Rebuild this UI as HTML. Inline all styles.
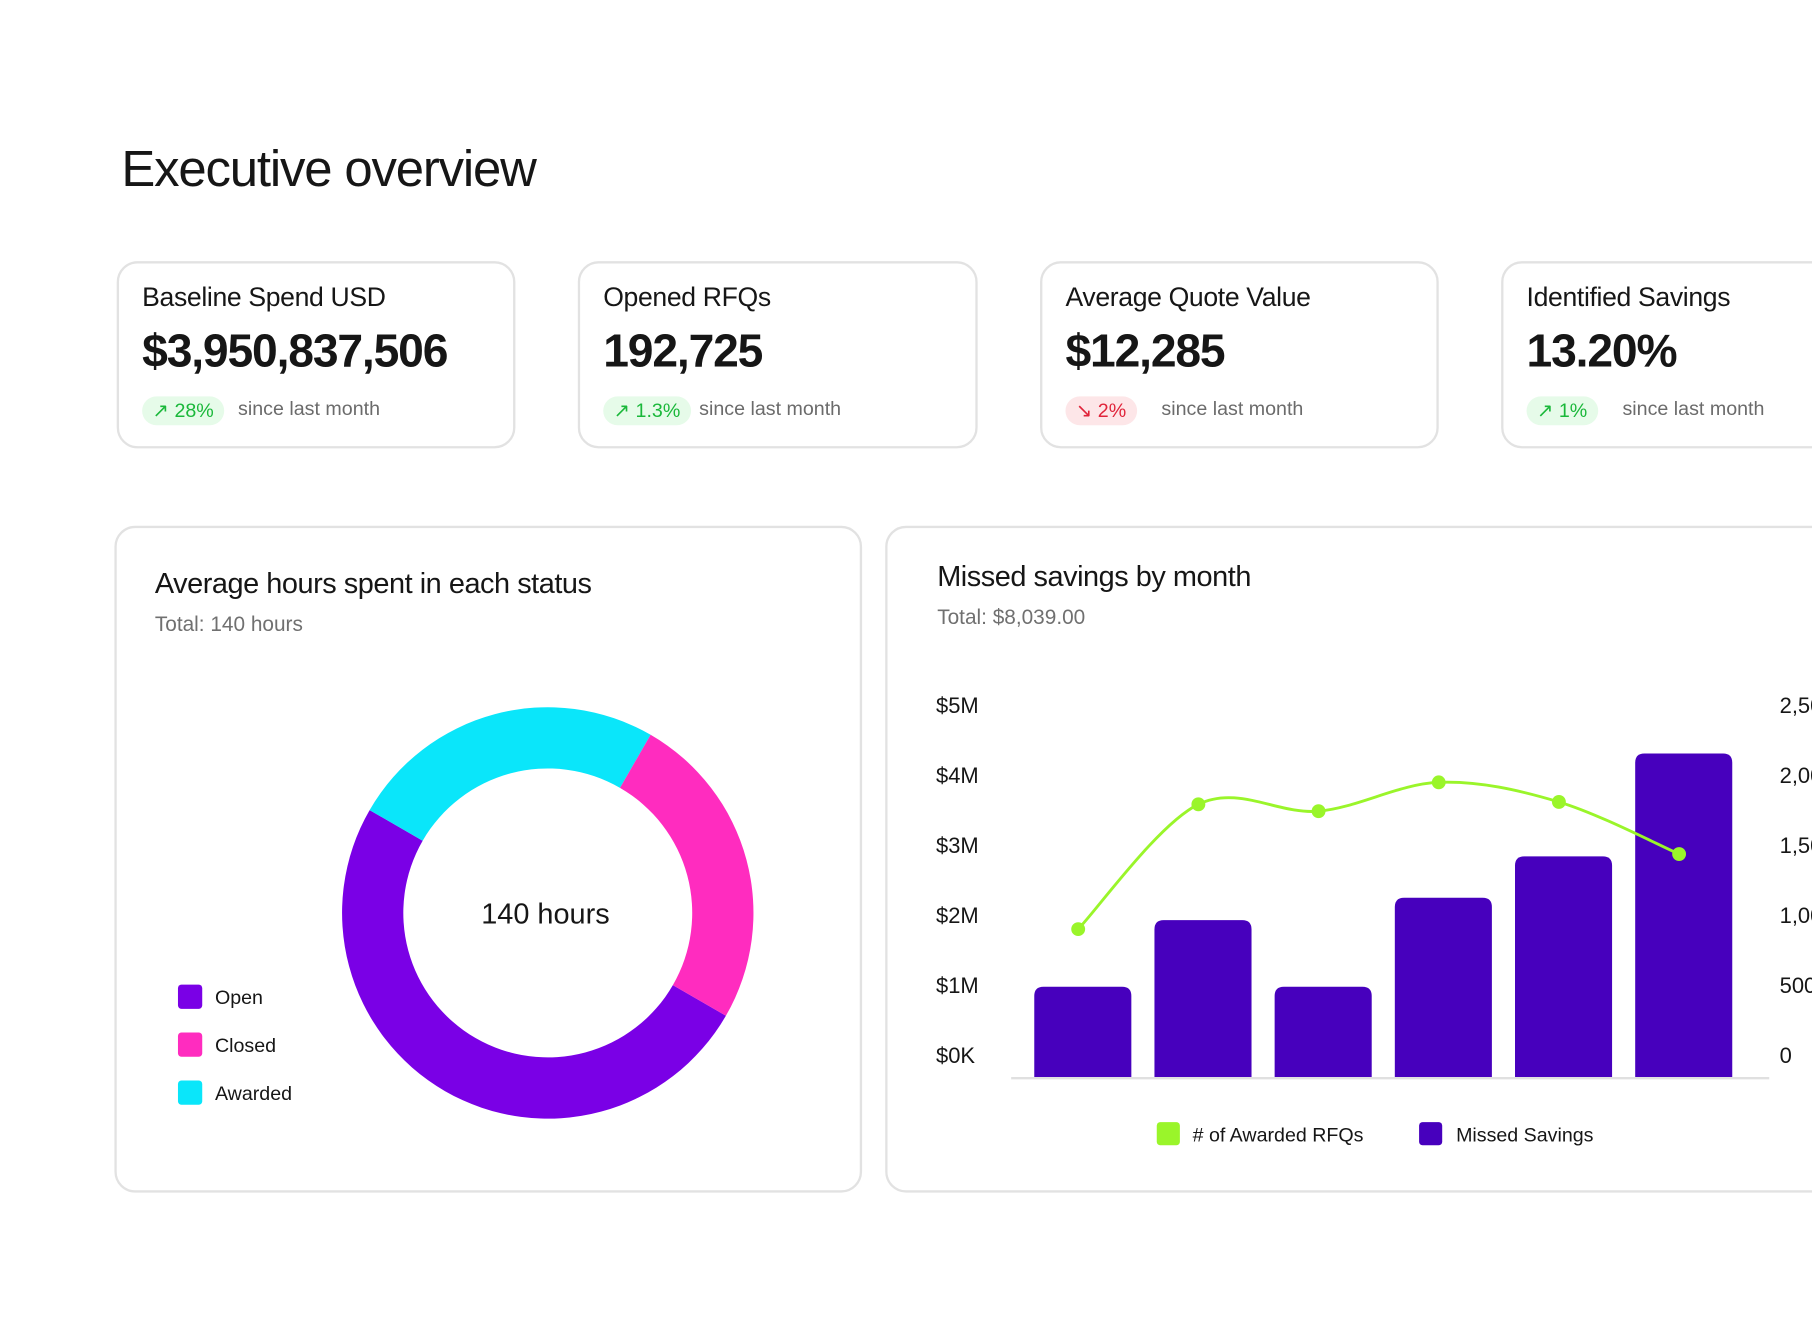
<!DOCTYPE html>
<html><head><meta charset="utf-8"><style>
html,body{margin:0;padding:0;background:#fff;overflow:hidden;width:1812px;height:1332px}
#wrap{position:absolute;left:0;top:0;width:1568px;height:1152px;overflow:hidden;transform:scale(1.15561);transform-origin:0 0;font-family:"Liberation Sans",sans-serif;color:#161616}
.abs{position:absolute}
.card{position:absolute;border:2px solid #e2e2e2;border-radius:18px;background:#fff;box-sizing:border-box}
.kt{position:absolute;left:20px;top:16px;font-size:23px;letter-spacing:-0.3px}
.kv{position:absolute;left:20px;top:54px;font-size:40px;font-weight:bold;letter-spacing:-1px}
.pill{position:absolute;left:20px;top:115px;height:25px;border-radius:13px;font-size:17px;line-height:25px;padding:0 9px}
.up{background:#e6fbe9;color:#1ab83a}
.down{background:#fde6e8;color:#e0243a}
.since{position:absolute;top:116px;font-size:17px;color:#6b6b6b}
</style></head><body><div id="wrap">
<div class="abs" style="left:105px;top:122px;font-size:44px;letter-spacing:-1px">Executive overview</div>

<div class="card" style="left:101px;top:226px;width:345px;height:162px">
<div class="kt">Baseline Spend USD</div>
<div class="kv">$3,950,837,506</div>
<div class="pill up">↗ 28%</div>
<div class="since" style="left:103px">since last month</div></div>

<div class="card" style="left:500px;top:226px;width:346px;height:162px">
<div class="kt">Opened RFQs</div>
<div class="kv">192,725</div>
<div class="pill up">↗ 1.3%</div>
<div class="since" style="left:103px">since last month</div></div>

<div class="card" style="left:900px;top:226px;width:345px;height:162px">
<div class="kt">Average Quote Value</div>
<div class="kv">$12,285</div>
<div class="pill down">↘ 2%</div>
<div class="since" style="left:103px">since last month</div></div>

<div class="card" style="left:1299px;top:226px;width:345px;height:162px">
<div class="kt">Identified Savings</div>
<div class="kv">13.20%</div>
<div class="pill up">↗ 1%</div>
<div class="since" style="left:103px">since last month</div></div>

<div class="card" style="left:99px;top:455px;width:647px;height:577px">
<div class="abs" style="left:33px;top:34px;font-size:25px;letter-spacing:-0.4px">Average hours spent in each status</div>
<div class="abs" style="left:33px;top:73px;font-size:18px;color:#707070">Total: 140 hours</div>
</div>

<div class="card" style="left:766px;top:455px;width:900px;height:577px">
<div class="abs" style="left:43px;top:28px;font-size:25px;letter-spacing:-0.4px">Missed savings by month</div>
<div class="abs" style="left:43px;top:67px;font-size:18px;color:#707070">Total: $8,039.00</div>
</div>

<svg id="svg" class="abs" style="left:0;top:0" width="1568" height="1152" font-family="Liberation Sans, sans-serif"></svg>
</div>
<script>
const statusLabels=["Open","Closed","Awarded"];
const statusHours=[70,35,35];
const statusColors=["#7a00e6","#ff2cbf","#0ae6fa"];
const months=["M1","M2","M3","M4","M5","M6"];
const missedSavings=[1.29,2.24,1.29,2.56,3.15,4.62];
const awardedRfqs=[1056,1947,1898,2104,1964,1592];
const leftTicks=[0,1,2,3,4,5];
const leftTickLabels=["$0K","$1M","$2M","$3M","$4M","$5M"];
const rightTicks=[0,500,1000,1500,2000,2500];
const rightTickLabels=["0","500","1,000","1,500","2,000","2,500"];

const NS="http://www.w3.org/2000/svg",svg=document.getElementById('svg');
function mk(t,a,p){const e=document.createElementNS(NS,t);for(const k in a)e.setAttribute(k,a[k]);(p||svg).appendChild(e);return e;}

// donut (clockwise drawing order: Open, Awarded, Closed)
const cx=474,cy=790,R=178,r=125;
const total=statusHours.reduce((a,b)=>a+b,0);
let start=120;
function pt(rad,deg){const a=deg*Math.PI/180;return [cx+rad*Math.sin(a),cy-rad*Math.cos(a)];}
[0,2,1].forEach(i=>{
  const v=statusHours[i];
  const sweep=v/total*360,end=start+sweep,lg=sweep>180?1:0;
  const [x1,y1]=pt(R,start),[x2,y2]=pt(R,end),[x3,y3]=pt(r,end),[x4,y4]=pt(r,start);
  const p=mk('path',{d:`M${x1},${y1}A${R},${R} 0 ${lg} 1 ${x2},${y2}L${x3},${y3}A${r},${r} 0 ${lg} 0 ${x4},${y4}Z`,fill:statusColors[i]});
  
  
  start=end;
});
const ct=mk('text',{x:cx-2,y:cy+9,'text-anchor':'middle','font-size':25,fill:'#161616'});ct.textContent=total+' hours';


statusLabels.forEach((l,i)=>{
  const y=862+i*41.5;
  const s=mk('rect',{x:154,y:y-10,width:21,height:21,rx:3,fill:statusColors[i]});
  
  
  const t=mk('text',{x:186,y:y+7,'font-size':17,fill:'#161616'});t.textContent=l;
  
  
});

// bar chart
const y0=932,yTop=629,x0=937,step=104,bw=84;
const yL=v=>y0-(v/5)*(y0-yTop);
const yR=v=>y0-(v/2500)*(y0-yTop);
const xC=i=>x0+i*step;
leftTicks.forEach((v,i)=>{const t=mk('text',{x:810,y:yL(v)-12,'font-size':19,fill:'#161616'});t.textContent=leftTickLabels[i];
  
  });
rightTicks.forEach((v,i)=>{const t=mk('text',{x:1540,y:yR(v)-12,'font-size':19,fill:'#161616'});t.textContent=rightTickLabels[i];
  
  });
missedSavings.forEach((v,i)=>{
  const x=xC(i)-bw/2,y=yL(v),rr=8;
  const b=mk('path',{d:`M${x},${y0}V${y+rr}Q${x},${y} ${x+rr},${y}H${x+bw-rr}Q${x+bw},${y} ${x+bw},${y+rr}V${y0}Z`,fill:'#4700bd'});
  
  
});
const ax=mk('line',{x1:875,x2:1531,y1:y0+1,y2:y0+1,stroke:'#e0e0e0','stroke-width':2});


const pts=awardedRfqs.map((v,i)=>[xC(i)-4,yR(v)]);
let d=`M${pts[0][0]},${pts[0][1]}`;
for(let i=0;i<pts.length-1;i++){const p0=pts[i-1]||pts[i],p1=pts[i],p2=pts[i+1],p3=pts[i+2]||p2;
  d+=`C${p1[0]+(p2[0]-p0[0])/6},${p1[1]+(p2[1]-p0[1])/6} ${p2[0]-(p3[0]-p1[0])/6},${p2[1]-(p3[1]-p1[1])/6} ${p2[0]},${p2[1]}`;}
const ln=mk('path',{d,fill:'none',stroke:'#9af52a','stroke-width':2.5});


pts.forEach((p,i)=>{const c=mk('circle',{cx:p[0],cy:p[1],r:6,fill:'#9af52a'});
  
  });
const l1=mk('rect',{x:1001,y:971,width:20,height:20,rx:3,fill:'#9af52a'});


const t1=mk('text',{x:1032,y:988,'font-size':17,fill:'#161616'});t1.textContent='# of Awarded  RFQs';


const l2=mk('rect',{x:1228,y:971,width:20,height:20,rx:3,fill:'#4700bd'});


const t2=mk('text',{x:1260,y:988,'font-size':17,fill:'#161616'});t2.textContent='Missed Savings';


</script></body></html>
